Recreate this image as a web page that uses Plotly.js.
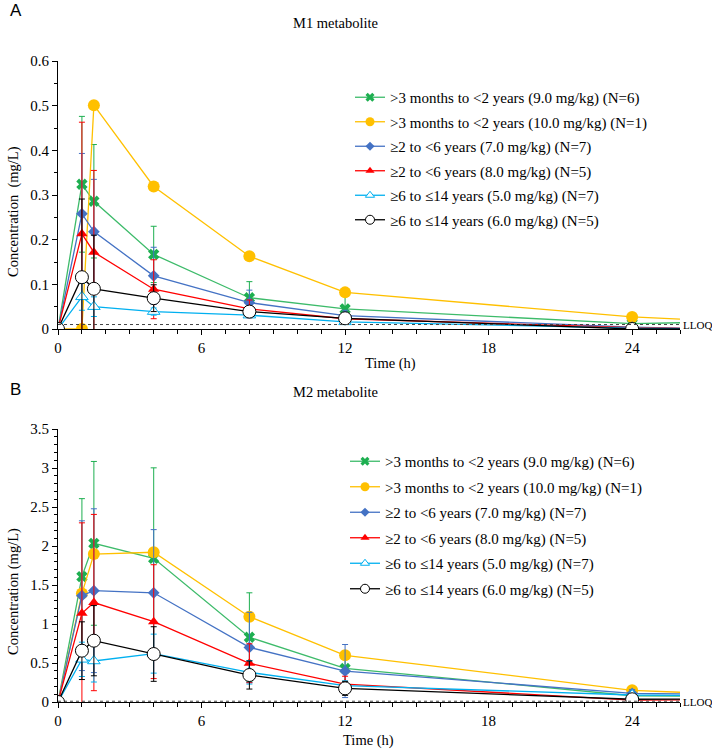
<!DOCTYPE html>
<html>
<head>
<meta charset="utf-8">
<script src="https://cdn.plot.ly/plotly-3.0.1.min.js"></script>
<style>html,body{margin:0;padding:0;background:#fff;}#chart{width:712px;height:750px;}</style>
</head>
<body>
<div id="chart"></div>
<script>
// ---------- data ----------
const timeH = [0, 1, 1.5, 4, 8, 12, 24, 28];
const seriesNames = [
  "&gt;3 months to &lt;2 years (9.0 mg/kg) (N=6)",
  "&gt;3 months to &lt;2 years (10.0 mg/kg) (N=1)",
  "≥2 to &lt;6 years (7.0 mg/kg) (N=7)",
  "≥2 to &lt;6 years (8.0 mg/kg) (N=5)",
  "≥6 to ≤14 years (5.0 mg/kg) (N=7)",
  "≥6 to ≤14 years (6.0 mg/kg) (N=5)"
];
// M1 metabolite means (mg/L)
const m1Green  = [0, 0.324, 0.286, 0.167, 0.070, 0.045, 0.012, 0.016];
const m1Yellow = [0, 0.000, 0.501, 0.319, 0.163, 0.082, 0.027, 0.017];
const m1Blue   = [0, 0.258, 0.218, 0.119, 0.059, 0.030, 0.004, 0.000];
const m1Red    = [0, 0.213, 0.172, 0.089, 0.045, 0.023, 0.003, 0.000];
const m1LBlue  = [0, 0.072, 0.050, 0.039, 0.031, 0.016, 0.002, 0.000];
const m1Black  = [0, 0.116, 0.090, 0.069, 0.039, 0.024, 0.000, 0.000];
// M1 SD
const m1GreenSD  = [0, 0.152, 0.127, 0.063, 0.036, 0.035, 0.004, 0];
const m1YellowSD = [0, 0, 0, 0, 0, 0, 0, 0];
const m1BlueSD   = [0, 0.135, 0.117, 0.064, 0.028, 0.012, 0.003, 0];
const m1RedSD    = [0, 0.250, 0.183, 0.066, 0.020, 0.010, 0.003, 0];
const m1LBlueSD  = [0, 0.030, 0.022, 0.008, 0.005, 0.003, 0.002, 0];
const m1BlackSD  = [0, 0.175, 0.120, 0.030, 0.010, 0.005, 0, 0];
// M2 metabolite means (mg/L)
const m2Green  = [0, 1.607, 2.034, 1.842, 0.830, 0.430, 0.080, 0.070];
const m2Yellow = [0, 1.390, 1.897, 1.920, 1.094, 0.598, 0.150, 0.100];
const m2Blue   = [0, 1.363, 1.427, 1.400, 0.700, 0.397, 0.110, 0.100];
const m2Red    = [0, 1.137, 1.275, 1.030, 0.496, 0.230, 0.025, 0.030];
const m2LBlue  = [0, 0.547, 0.526, 0.620, 0.380, 0.210, 0.090, 0.080];
const m2Black  = [0, 0.658, 0.786, 0.615, 0.346, 0.175, 0.035, 0.040];
// M2 SD
const m2GreenSD  = [0, 1.000, 1.050, 1.160, 0.570, 0.200, 0.050, 0];
const m2YellowSD = [0, 0, 0, 0, 0, 0, 0, 0];
const m2BlueSD   = [0, 0.960, 1.050, 0.810, 0.450, 0.340, 0.050, 0];
const m2RedSD    = [0, 1.160, 1.130, 0.730, 0.250, 0.100, 0.020, 0];
const m2LBlueSD  = [0, 0.220, 0.270, 0.250, 0.150, 0.060, 0.030, 0];
const m2BlackSD  = [0, 0.370, 0.450, 0.350, 0.180, 0.090, 0.020, 0];
const lloq = 0.01;
const xTickVals = [0, 6, 12, 18, 24];

// ---------- styles ----------
const styles = [
  {color:'#1DAF50', line:'#3DBB6A', symbol:'x', size:10, lsize:8, fill:'#1DAF50', lw:0},
  {color:'#FFC000', line:'#FFC000', symbol:'circle', size:12, lsize:9, fill:'#FFC000', lw:0},
  {color:'#4472C4', line:'#4472C4', symbol:'diamond', size:9, lsize:7, fill:'#4472C4', lw:0},
  {color:'#FF0000', line:'#FF0000', symbol:'triangle-up', size:10, lsize:8, fill:'#FF0000', lw:0},
  {color:'#00B0F0', line:'#00B0F0', symbol:'triangle-up', size:11, lsize:8, fill:'#FFFFFF', lw:1},
  {color:'#000000', line:'#000000', symbol:'circle', size:13, lsize:9, fill:'#FFFFFF', lw:1}
];
const m1 = [[m1Green,m1GreenSD],[m1Yellow,m1YellowSD],[m1Blue,m1BlueSD],[m1Red,m1RedSD],[m1LBlue,m1LBlueSD],[m1Black,m1BlackSD]];
const m2 = [[m2Green,m2GreenSD],[m2Yellow,m2YellowSD],[m2Blue,m2BlueSD],[m2Red,m2RedSD],[m2LBlue,m2LBlueSD],[m2Black,m2BlackSD]];

const traces = [];
function addPanel(set, xa, ya, leg) {
  set.forEach((s, i) => {
    const st = styles[i];
    traces.push({
      type:'scatter', mode:'lines+markers', x:timeH, y:s[0],
      xaxis:xa, yaxis:ya, name:seriesNames[i], showlegend:false,
      line:{color:st.line, width:1.3},
      marker:{symbol:st.symbol, size:st.size, color:st.fill, line:{color:st.color, width:st.lw}},
      error_y:{type:'data', array:s[1], visible:true, color:st.color, thickness:1, width:3},
      cliponaxis:true
    });
  });
  // legend entries (smaller symbols, as in the reference legend)
  styles.forEach((st, i) => {
    traces.push({
      type:'scatter', mode:'lines+markers', x:[null], y:[null], xaxis:xa, yaxis:ya,
      name:seriesNames[i], legend:leg, legendgroup:leg+'g'+i, showlegend:true,
      line:{color:st.line, width:1.3},
      marker:{symbol:st.symbol, size:st.lsize, color:st.fill, line:{color:st.color, width:st.lw}}
    });
  });
}
addPanel(m1, 'x', 'y', 'legend');
addPanel(m2, 'x2', 'y2', 'legend2');

// pixel -> paper helpers
const L=58, R=32, T=61, B=48, W=712, H=750;
const PW=W-L-R, PH=H-T-B;
const px = v => (v-L)/PW;
const py = v => (H-B-v)/PH;

const serif = '"Liberation Serif"';
const tickFont = {family:serif, size:15, color:'#000'};

function xAxis(anchor) {
  return {anchor:anchor, range:[0,26], tickvals:xTickVals, ticks:'outside', ticklen:5, tickcolor:'#000',
    showline:true, linecolor:'#000', linewidth:1, showgrid:false, zeroline:false, tickfont:tickFont,
    minor:{dtick:1, ticks:'outside', ticklen:4, tickcolor:'#000', showgrid:false}};
}
function yAxis(anchor, domain, range, dtick, minor) {
  return {anchor:anchor, domain:domain, range:range, dtick:dtick, ticks:'outside', ticklen:5, tickcolor:'#000',
    showline:true, linecolor:'#000', linewidth:1, showgrid:false, zeroline:false, tickfont:tickFont,
    minor:{dtick:minor, ticks:'outside', ticklen:3, tickcolor:'#000', showgrid:false}};
}

const ann = (text, x, y, opts) => Object.assign({text:text, x:px(x), y:py(y), xref:'paper', yref:'paper', showarrow:false,
  xanchor:'center', yanchor:'middle', font:{family:serif, size:14.5, color:'#000'}}, opts||{});

const layout = {
  width:W, height:H, margin:{l:L, r:R, t:T, b:B}, paper_bgcolor:'#fff', plot_bgcolor:'#fff',
  font:{family:serif, color:'#000'},
  showlegend:true,
  xaxis: xAxis('y'),
  yaxis: yAxis('x', [py(329), 1], [0, 0.6], 0.1, 0.05),
  xaxis2: xAxis('y2'),
  yaxis2: yAxis('x2', [0, py(429)], [0, 3.5], 0.5, 0.1),
  legend:{x:px(350), y:py(81), xanchor:'left', yanchor:'top', bgcolor:'rgba(0,0,0,0)', tracegroupgap:2,
    font:{family:serif, size:15, color:'#000'}, itemwidth:30},
  legend2:{x:px(345), y:py(445), xanchor:'left', yanchor:'top', bgcolor:'rgba(0,0,0,0)', tracegroupgap:3,
    font:{family:serif, size:15, color:'#000'}, itemwidth:30},
  shapes:[
    {type:'line', xref:'x', yref:'y', x0:0, x1:26, y0:lloq, y1:lloq, line:{color:'#444', width:1, dash:'dot'}},
    {type:'line', xref:'x2', yref:'y2', x0:0, x1:26, y0:lloq, y1:lloq, line:{color:'#444', width:1, dash:'dot'}}
  ],
  annotations:[
    ann('A', 8, 11, {xanchor:'left', font:{family:'"Liberation Sans"', size:17, color:'#000'}}),
    ann('B', 8, 389, {xanchor:'left', font:{family:'"Liberation Sans"', size:17, color:'#000'}}),
    ann('M1 metabolite', 335, 23),
    ann('M2 metabolite', 335, 392),
    ann('Concentration  (mg/L)', 13, 212, {textangle:-90}),
    ann('Concentration (mg/L)', 13, 592, {textangle:-90}),
    ann('Time (h)', 390, 363),
    ann('Time (h)', 368, 740),
    ann('LLOQ', 681, 325, {xanchor:'left', font:{family:serif, size:11, color:'#000'}}),
    ann('LLOQ', 681, 702, {xanchor:'left', font:{family:serif, size:11, color:'#000'}})
  ]
};

Plotly.newPlot('chart', traces, layout, {displayModeBar:false, staticPlot:true});
</script>
</body>
</html>
